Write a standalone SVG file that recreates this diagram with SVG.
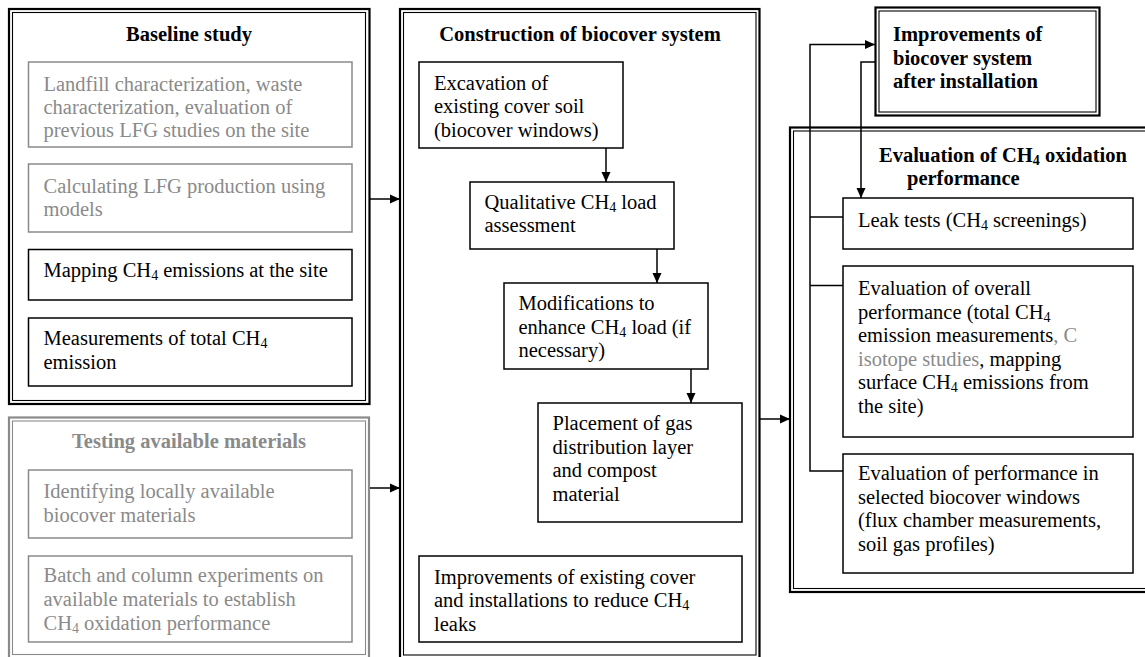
<svg xmlns="http://www.w3.org/2000/svg" width="1145" height="657" viewBox="0 0 1145 657">
<defs>
<style>
text{font-family:"Liberation Serif","Times New Roman",serif;font-size:20.5px;fill:#000}
.b{font-weight:bold}
.g{fill:#8a8a8a}
.c{text-anchor:middle}
.box{fill:#fff;stroke:#000;stroke-width:1.5}
.gbox{fill:#fff;stroke:#8a8a8a;stroke-width:1.5}
.thick{fill:none;stroke:#000;stroke-width:2.2}
.thin{fill:none;stroke:#000;stroke-width:1.1}
.gthick{fill:none;stroke:#8a8a8a;stroke-width:2.2}
.gthin{fill:none;stroke:#8a8a8a;stroke-width:1.1}
.conn{fill:none;stroke:#000;stroke-width:1.5}
.s{font-size:14px}
</style>
<marker id="ah" viewBox="0 0 10 10" refX="10" refY="5" markerWidth="10" markerHeight="10" markerUnits="userSpaceOnUse" orient="auto">
<path d="M0,0.5 L10,5 L0,9.5 z" fill="#000"/>
</marker>
</defs>
<rect width="1145" height="657" fill="#fff"/>

<g id="baseline">
<rect class="thick" x="9" y="9" width="360.5" height="395"/>
<rect class="thin" x="12.5" y="12.5" width="353" height="388"/>
<text class="b c" x="189" y="41">Baseline study</text>
<g id="landfill">
<rect class="gbox" x="28.5" y="62" width="323.5" height="85"/>
<text class="g" x="43.5" y="90.5">Landfill characterization, waste</text>
<text class="g" x="43.5" y="113.5">characterization, evaluation of</text>
<text class="g" x="43.5" y="137">previous LFG studies on the site</text>
</g>
<g id="calc">
<rect class="gbox" x="28.5" y="164" width="323.5" height="68"/>
<text class="g" x="43.5" y="192.5">Calculating LFG production using</text>
<text class="g" x="43.5" y="216">models</text>
</g>
<g id="mapping">
<rect class="box" x="28.5" y="249.5" width="323.5" height="50.5"/>
<text x="43.5" y="277">Mapping CH<tspan class="s" dy="3">4</tspan><tspan dy="-3"> emissions at the site</tspan></text>
</g>
<g id="measure">
<rect class="box" x="28.5" y="318" width="323.5" height="68"/>
<text x="43.5" y="345">Measurements of total CH<tspan class="s" dy="3">4</tspan></text>
<text x="43.5" y="368.5">emission</text>
</g>
</g>

<g id="testing">
<rect class="gthick" x="9" y="417.5" width="360" height="242"/>
<rect class="gthin" x="12.5" y="421" width="353" height="233.5"/>
<text class="b c g" x="189" y="448">Testing available materials</text>
<g id="identify">
<rect class="gbox" x="28.5" y="470" width="323.5" height="68"/>
<text class="g" x="43.5" y="498">Identifying locally available</text>
<text class="g" x="43.5" y="521.5">biocover materials</text>
</g>
<g id="batch">
<rect class="gbox" x="28.5" y="556" width="323.5" height="86"/>
<text class="g" x="43.5" y="582">Batch and column experiments on</text>
<text class="g" x="43.5" y="606">available materials to establish</text>
<text class="g" x="43.5" y="630">CH<tspan class="s" dy="3">4</tspan><tspan dy="-3"> oxidation performance</tspan></text>
</g>
</g>

<g id="construction">
<rect class="thick" x="400" y="9" width="359.5" height="652"/>
<rect class="thin" x="403.5" y="12.5" width="352.5" height="642.5"/>
<text class="b c" x="580" y="41">Construction of biocover system</text>
<g id="excavation">
<rect class="box" x="419" y="62" width="204" height="86"/>
<text x="434" y="89.5">Excavation of</text>
<text x="434" y="113">existing cover soil</text>
<text x="434" y="136.5">(biocover windows)</text>
</g>
<g id="qualitative">
<rect class="box" x="470" y="182" width="204" height="67"/>
<text x="484.5" y="208.5">Qualitative CH<tspan class="s" dy="3">4</tspan><tspan dy="-3"> load</tspan></text>
<text x="484.5" y="232">assessment</text>
</g>
<g id="modifications">
<rect class="box" x="504" y="283" width="204" height="86"/>
<text x="518.5" y="310">Modifications to</text>
<text x="518.5" y="333.5">enhance CH<tspan class="s" dy="3">4</tspan><tspan dy="-3"> load (if</tspan></text>
<text x="518.5" y="357">necessary)</text>
</g>
<g id="placement">
<rect class="box" x="538" y="403" width="204" height="119"/>
<text x="552.5" y="430">Placement of gas</text>
<text x="552.5" y="453.5">distribution layer</text>
<text x="552.5" y="477">and compost</text>
<text x="552.5" y="500.5">material</text>
</g>
<g id="existing">
<rect class="box" x="419" y="556" width="323" height="86"/>
<text x="434" y="583.5">Improvements of existing cover</text>
<text x="434" y="607">and installations to reduce CH<tspan class="s" dy="3">4</tspan></text>
<text x="434" y="630.5">leaks</text>
</g>
</g>

<g id="improvements">
<rect class="thick" x="875.5" y="7.5" width="224" height="108" fill="#fff"/>
<rect class="thin" x="879" y="11" width="217" height="101"/>
<text class="b" x="893" y="41">Improvements of</text>
<text class="b" x="893" y="64.5">biocover system</text>
<text class="b" x="893" y="88">after installation</text>
</g>

<g id="evaluation">
<rect class="thick" x="790" y="127.5" width="370" height="464.5"/>
<rect class="thin" x="793.5" y="131" width="360" height="457.5"/>
<text class="b" x="879" y="162">Evaluation of CH<tspan class="s" dy="3">4</tspan><tspan dy="-3"> oxidation</tspan></text>
<text class="b" x="907" y="184.5">performance</text>
<g id="leak">
<rect class="box" x="843" y="198" width="290" height="51"/>
<text x="858" y="226.5">Leak tests (CH<tspan class="s" dy="3">4</tspan><tspan dy="-3"> screenings)</tspan></text>
</g>
<g id="overall">
<rect class="box" x="843" y="266" width="290" height="171"/>
<text x="858" y="295">Evaluation of overall</text>
<text x="858" y="318.5">performance (total CH<tspan class="s" dy="3">4</tspan></text>
<text x="858" y="342">emission measurements<tspan class="g">, C</tspan></text>
<text x="858" y="365.5"><tspan class="g">isotope studies</tspan>, mapping</text>
<text x="858" y="389">surface CH<tspan class="s" dy="3">4</tspan><tspan dy="-3"> emissions from</tspan></text>
<text x="858" y="412.5">the site)</text>
</g>
<g id="windows">
<rect class="box" x="843" y="454" width="290" height="119"/>
<text x="858" y="480">Evaluation of performance in</text>
<text x="858" y="503.5">selected biocover windows</text>
<text x="858" y="527">(flux chamber measurements,</text>
<text x="858" y="550.5">soil gas profiles)</text>
</g>
</g>

<g id="connectors">
<path class="conn" d="M606,148 V182" marker-end="url(#ah)"/>
<path class="conn" d="M657,249 V283" marker-end="url(#ah)"/>
<path class="conn" d="M691,369 V403" marker-end="url(#ah)"/>
<path class="conn" d="M370,199 H400" marker-end="url(#ah)"/>
<path class="conn" d="M370,488 H400" marker-end="url(#ah)"/>
<path class="conn" d="M760,419 H790" marker-end="url(#ah)"/>
<path class="conn" d="M843,471 H810 V44.5 H875" marker-end="url(#ah)"/>
<path class="conn" d="M810,217 H843"/>
<path class="conn" d="M810,285.5 H843"/>
<path class="conn" d="M875,62 H861 V198" marker-end="url(#ah)"/>
</g>
</svg>
